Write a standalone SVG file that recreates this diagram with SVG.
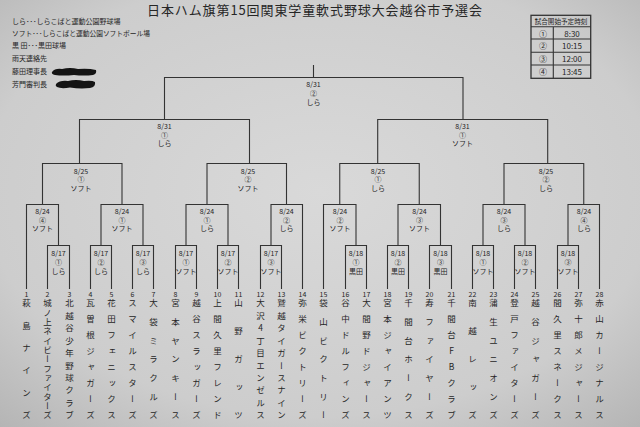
<svg xmlns="http://www.w3.org/2000/svg" width="640" height="427" viewBox="0 0 640 427">
<defs>
<radialGradient id="bg" cx="0.5" cy="0.45" r="0.75">
<stop offset="0" stop-color="#d9d9d9"/>
<stop offset="0.7" stop-color="#cdcdcd"/>
<stop offset="1" stop-color="#b4b4b4"/>
</radialGradient>
<style>
text{font-family:"Noto Sans CJK JP","Noto Sans",sans-serif;fill:#262626}
.ln{fill:none;stroke:#333;stroke-width:1.1}
.lb{font-size:7px;text-anchor:middle;dominant-baseline:central}
.num{font-size:7px;text-anchor:middle;dominant-baseline:central}
.nm{font-size:8.5px;writing-mode:vertical-rl;text-orientation:upright}
.lg{font-size:7px}
.tt{font-size:8px;text-anchor:middle;dominant-baseline:central}
.blob{fill:#141414}
</style>
</defs>
<rect width="640" height="427" fill="url(#bg)"/>

<g id="title"><text x="147" y="14.5" font-size="13" textLength="335" lengthAdjust="spacing">日本ハム旗第15回関東学童軟式野球大会越谷市予選会</text></g>

<g id="legend">
<text class="lg" x="12" y="24.2">しら･･･しらこばと運動公園野球場</text>
<text class="lg" x="12" y="36.2" textLength="138" lengthAdjust="spacingAndGlyphs">ソフト･･･しらこばと運動公園ソフトボール場</text>
<text class="lg" x="12" y="47.8">黒 田･･･黒田球場</text>
<text class="lg" x="12" y="60.8">雨天連絡先</text>
<text class="lg" x="12" y="74.2">藤田理事長</text>
<text class="lg" x="12" y="86.5">芳門審判長</text>
<path class="blob" d="M52 72 Q55 68 62 69 Q70 67 78 69 Q88 68 96 70 Q97 74 93 75 Q84 76 74 75 Q63 76 55 75 Q51 74 52 72 Z"/>
<path class="blob" d="M56 84 Q60 80 68 81 Q76 79 84 81 Q92 80 95 82 Q96 87 90 88 Q80 89 70 87.5 Q61 89 57 87 Q55 86 56 84 Z"/>
</g>

<g id="schedule">
<rect x="531" y="15.3" width="59.7" height="63" fill="none" stroke="#333" stroke-width="1.3"/>
<path class="ln" d="M531 26.7 H590.7 M531 39 H590.7 M531 52.3 H590.7 M531 65 H590.7 M553.3 26.7 V78.3"/>
<text x="561" y="21" font-size="6.6" text-anchor="middle" dominant-baseline="central">試合開始予定時刻</text>
<text class="tt" x="543" y="33">①</text><text class="tt" x="572" y="33">8:30</text>
<text class="tt" x="543" y="45.7">②</text><text class="tt" x="572" y="45.7">10:15</text>
<text class="tt" x="543" y="58.7">③</text><text class="tt" x="572" y="58.7">12:00</text>
<text class="tt" x="543" y="71.7">④</text><text class="tt" x="572" y="71.7">13:45</text>
</g>

<g id="connectors">
<path class="ln" d="M313.5 65 V77.5 M164.5 119.5 V77.5 H463 V119.5"/>
<path class="ln" d="M79.5 163.5 V119.5 H249.5 V163.5"/>
<path class="ln" d="M377.7 163.5 V119.5 H547.7 V163.5"/>
<path class="ln" d="M42.5 204.5 V163.5 H122 V204.5"/>
<path class="ln" d="M207 204.5 V163.5 H286.5 V204.5"/>
<path class="ln" d="M339.75 204.5 V163.5 H419.25 V204.5"/>
<path class="ln" d="M504 204.5 V163.5 H583.75 V204.5"/>
<path class="ln" d="M26.5 289 V204.5 H58.5 V245.5"/>
<path class="ln" d="M101 245.5 V204.5 H143 V245.5"/>
<path class="ln" d="M186 245.5 V204.5 H228 V245.5"/>
<path class="ln" d="M271 245.5 V204.5 H302.5 V289"/>
<path class="ln" d="M323.5 289 V204.5 H356 V245.5"/>
<path class="ln" d="M398 245.5 V204.5 H440.5 V245.5"/>
<path class="ln" d="M483 245.5 V204.5 H525 V245.5"/>
<path class="ln" d="M568 245.5 V204.5 H599.5 V289"/>
<path class="ln" d="M47.5 289 V245.5 H69.5 V289 M90.5 289 V245.5 H111.5 V289 M132.5 289 V245.5 H153.5 V289 M175.5 289 V245.5 H196.5 V289 M217.5 289 V245.5 H238.5 V289 M260.5 289 V245.5 H281.5 V289"/>
<path class="ln" d="M345.5 289 V245.5 H366.5 V289 M387.5 289 V245.5 H408.5 V289 M429.5 289 V245.5 H451.5 V289 M472.5 289 V245.5 H493.5 V289 M514.5 289 V245.5 H535.5 V289 M557.5 289 V245.5 H578.5 V289"/>
</g>

<g id="final"><text class="lb" x="313.5" y="84">8/31</text><text class="lb" x="313.5" y="93">②</text><text class="lb" x="313.5" y="102">しら</text></g>
<g id="sf1"><text class="lb" x="164.5" y="126">8/31</text><text class="lb" x="164.5" y="134.7">①</text><text class="lb" x="164.5" y="143.3">しら</text></g>
<g id="sf2"><text class="lb" x="462.5" y="126">8/31</text><text class="lb" x="462.5" y="134.7">①</text><text class="lb" x="462.5" y="143.3">ソフト</text></g>
<g id="qf1"><text class="lb" x="81" y="170.5">8/25</text><text class="lb" x="81" y="179">①</text><text class="lb" x="81" y="187.5">ソフト</text></g>
<g id="qf2"><text class="lb" x="248" y="170.5">8/25</text><text class="lb" x="248" y="179">②</text><text class="lb" x="248" y="187.5">ソフト</text></g>
<g id="qf3"><text class="lb" x="378" y="170.5">8/25</text><text class="lb" x="378" y="179">①</text><text class="lb" x="378" y="187.5">しら</text></g>
<g id="qf4"><text class="lb" x="546" y="170.5">8/25</text><text class="lb" x="546" y="179">②</text><text class="lb" x="546" y="187.5">しら</text></g>
<g id="r2a"><text class="lb" x="42.5" y="211">8/24</text><text class="lb" x="42.5" y="219.5">④</text><text class="lb" x="42.5" y="228">ソフト</text></g>
<g id="r2b"><text class="lb" x="122" y="211">8/24</text><text class="lb" x="122" y="219.5">①</text><text class="lb" x="122" y="228">ソフト</text></g>
<g id="r2c"><text class="lb" x="207" y="211">8/24</text><text class="lb" x="207" y="219.5">①</text><text class="lb" x="207" y="228">しら</text></g>
<g id="r2d"><text class="lb" x="286.5" y="211">8/24</text><text class="lb" x="286.5" y="219.5">②</text><text class="lb" x="286.5" y="228">しら</text></g>
<g id="r2e"><text class="lb" x="340" y="211">8/24</text><text class="lb" x="340" y="219.5">②</text><text class="lb" x="340" y="228">ソフト</text></g>
<g id="r2f"><text class="lb" x="419.5" y="211">8/24</text><text class="lb" x="419.5" y="219.5">③</text><text class="lb" x="419.5" y="228">ソフト</text></g>
<g id="r2g"><text class="lb" x="504" y="211">8/24</text><text class="lb" x="504" y="219.5">③</text><text class="lb" x="504" y="228">しら</text></g>
<g id="r2h"><text class="lb" x="584" y="211">8/24</text><text class="lb" x="584" y="219.5">④</text><text class="lb" x="584" y="228">しら</text></g>
<g id="r1a"><text class="lb" x="58.5" y="253.3">8/17</text><text class="lb" x="58.5" y="261.8">①</text><text class="lb" x="58.5" y="270.5">しら</text></g>
<g id="r1b"><text class="lb" x="101" y="253.3">8/17</text><text class="lb" x="101" y="261.8">②</text><text class="lb" x="101" y="270.5">しら</text></g>
<g id="r1c"><text class="lb" x="143" y="253.3">8/17</text><text class="lb" x="143" y="261.8">③</text><text class="lb" x="143" y="270.5">しら</text></g>
<g id="r1d"><text class="lb" x="186" y="253.3">8/17</text><text class="lb" x="186" y="261.8">①</text><text class="lb" x="186" y="270.5">ソフト</text></g>
<g id="r1e"><text class="lb" x="228" y="253.3">8/17</text><text class="lb" x="228" y="261.8">②</text><text class="lb" x="228" y="270.5">ソフト</text></g>
<g id="r1f"><text class="lb" x="271" y="253.3">8/17</text><text class="lb" x="271" y="261.8">③</text><text class="lb" x="271" y="270.5">ソフト</text></g>
<g id="r1g"><text class="lb" x="356" y="253.3">8/18</text><text class="lb" x="356" y="261.8">①</text><text class="lb" x="356" y="270.5">黒田</text></g>
<g id="r1h"><text class="lb" x="398" y="253.3">8/18</text><text class="lb" x="398" y="261.8">②</text><text class="lb" x="398" y="270.5">黒田</text></g>
<g id="r1i"><text class="lb" x="440.5" y="253.3">8/18</text><text class="lb" x="440.5" y="261.8">③</text><text class="lb" x="440.5" y="270.5">黒田</text></g>
<g id="r1j"><text class="lb" x="483" y="253.3">8/18</text><text class="lb" x="483" y="261.8">①</text><text class="lb" x="483" y="270.5">ソフト</text></g>
<g id="r1k"><text class="lb" x="525" y="253.3">8/18</text><text class="lb" x="525" y="261.8">②</text><text class="lb" x="525" y="270.5">ソフト</text></g>
<g id="r1l"><text class="lb" x="568" y="253.3">8/18</text><text class="lb" x="568" y="261.8">③</text><text class="lb" x="568" y="270.5">ソフト</text></g>

<g id="t1"><text class="num" x="26.5" y="294">1</text><text class="nm" x="26.5" y="299" letter-spacing="13.84">萩島ナイン<tspan letter-spacing="0">ズ</tspan></text></g>
<g id="t2"><text class="num" x="47.5" y="294">2</text><text class="nm" x="47.5" y="299" letter-spacing="0.81">城ノ上ネイビーファイター<tspan letter-spacing="0">ズ</tspan></text></g>
<g id="t3"><text class="num" x="69.5" y="294">3</text><text class="nm" x="69.5" y="299" letter-spacing="3.91">北越谷少年野球クラ<tspan letter-spacing="0">ブ</tspan></text></g>
<g id="t4"><text class="num" x="90.5" y="294">4</text><text class="nm" x="90.5" y="299" letter-spacing="7.46">瓦曽根ジャガー<tspan letter-spacing="0">ズ</tspan></text></g>
<g id="t5"><text class="num" x="111.5" y="294">5</text><text class="nm" x="111.5" y="299" letter-spacing="7.46">花田フェニック<tspan letter-spacing="0">ス</tspan></text></g>
<g id="t6"><text class="num" x="132.5" y="294">6</text><text class="nm" x="132.5" y="299" letter-spacing="7.46">スマイルスター<tspan letter-spacing="0">ズ</tspan></text></g>
<g id="t7"><text class="num" x="153.5" y="294">7</text><text class="nm" x="153.5" y="299" letter-spacing="10.12">大袋ミラクル<tspan letter-spacing="0">ズ</tspan></text></g>
<g id="t8"><text class="num" x="175.5" y="294">8</text><text class="nm" x="175.5" y="299" letter-spacing="10.12">宮本ヤンキー<tspan letter-spacing="0">ス</tspan></text></g>
<g id="t9"><text class="num" x="196.5" y="294">9</text><text class="nm" x="196.5" y="299" letter-spacing="7.46">越谷スラッガー<tspan letter-spacing="0">ズ</tspan></text></g>
<g id="t10"><text class="num" x="217.5" y="294">10</text><text class="nm" x="217.5" y="299" letter-spacing="7.46">上間久里フレン<tspan letter-spacing="0">ド</tspan></text></g>
<g id="t11"><text class="num" x="238.5" y="294">11</text><text class="nm" x="238.5" y="299" letter-spacing="19.43">山野ガッ<tspan letter-spacing="0">ツ</tspan></text></g>
<g id="t12"><text class="num" x="260.5" y="294">12</text><text class="nm" x="260.5" y="299" letter-spacing="3.91">大沢4丁目エンゼル<tspan letter-spacing="0">ス</tspan></text></g>
<g id="t13"><text class="num" x="281.5" y="294">13</text><text class="nm" x="281.5" y="299" letter-spacing="3.91">鷲越タイガースナイ<tspan letter-spacing="0">ン</tspan></text></g>
<g id="t14"><text class="num" x="302.5" y="294">14</text><text class="nm" x="302.5" y="299" letter-spacing="7.46">弥栄ビクトリー<tspan letter-spacing="0">ズ</tspan></text></g>
<g id="t15"><text class="num" x="323.5" y="294">15</text><text class="nm" x="323.5" y="299" letter-spacing="10.12">袋山ビクトリ<tspan letter-spacing="0">ー</tspan></text></g>
<g id="t16"><text class="num" x="345.5" y="294">16</text><text class="nm" x="345.5" y="299" letter-spacing="7.46">谷中ドルフィン<tspan letter-spacing="0">ズ</tspan></text></g>
<g id="t17"><text class="num" x="366.5" y="294">17</text><text class="nm" x="366.5" y="299" letter-spacing="7.46">大間野ドジャー<tspan letter-spacing="0">ス</tspan></text></g>
<g id="t18"><text class="num" x="387.5" y="294">18</text><text class="nm" x="387.5" y="299" letter-spacing="7.46">宮本ジャイアン<tspan letter-spacing="0">ツ</tspan></text></g>
<g id="t19"><text class="num" x="408.5" y="294">19</text><text class="nm" x="408.5" y="299" letter-spacing="10.12">千間台ホーク<tspan letter-spacing="0">ス</tspan></text></g>
<g id="t20"><text class="num" x="429.5" y="294">20</text><text class="nm" x="429.5" y="299" letter-spacing="10.12">寿ファイヤー<tspan letter-spacing="0">ズ</tspan></text></g>
<g id="t21"><text class="num" x="451.5" y="294">21</text><text class="nm" x="451.5" y="299" letter-spacing="7.46">千間台FBクラ<tspan letter-spacing="0">ブ</tspan></text></g>
<g id="t22"><text class="num" x="472.5" y="294">22</text><text class="nm" x="472.5" y="299" letter-spacing="19.43">南越レッ<tspan letter-spacing="0">ズ</tspan></text></g>
<g id="t23"><text class="num" x="493.5" y="294">23</text><text class="nm" x="493.5" y="299" letter-spacing="10.12">蒲生ユニオン<tspan letter-spacing="0">ズ</tspan></text></g>
<g id="t24"><text class="num" x="514.5" y="294">24</text><text class="nm" x="514.5" y="299" letter-spacing="7.46">登戸ファイター<tspan letter-spacing="0">ズ</tspan></text></g>
<g id="t25"><text class="num" x="535.5" y="294">25</text><text class="nm" x="535.5" y="299" letter-spacing="10.12">越谷ジャガー<tspan letter-spacing="0">ズ</tspan></text></g>
<g id="t26"><text class="num" x="557.5" y="294">26</text><text class="nm" x="557.5" y="299" letter-spacing="7.46">間久里スネーク<tspan letter-spacing="0">ス</tspan></text></g>
<g id="t27"><text class="num" x="578.5" y="294">27</text><text class="nm" x="578.5" y="299" letter-spacing="7.46">弥十郎メジャー<tspan letter-spacing="0">ス</tspan></text></g>
<g id="t28"><text class="num" x="599.5" y="294">28</text><text class="nm" x="599.5" y="299" letter-spacing="7.46">赤山カージナル<tspan letter-spacing="0">ス</tspan></text></g>
</svg>
